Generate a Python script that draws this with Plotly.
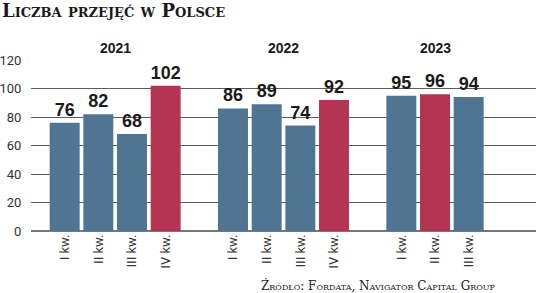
import plotly.graph_objects as go

years = ["2021", "2022", "2023"]
quarters = ["I kw.", "II kw.", "III kw.", "IV kw."]
values_2021 = [76, 82, 68, 102]
values_2022 = [86, 89, 74, 92]
values_2023 = [95, 96, 94]
highlight = {"2021": 3, "2022": 3, "2023": 1}  # quarter index drawn in red
y_ticks = [0, 20, 40, 60, 80, 100, 120]

BLUE = "#4f7593"
RED = "#b43552"

series = [values_2021, values_2022, values_2023]
xs, ys, labels, colors = [], [], [], []
for g, (yr, vals) in enumerate(zip(years, series)):
    for q, v in enumerate(vals):
        xs.append(g * 5 + q)
        ys.append(v)
        labels.append(quarters[q])
        colors.append(RED if highlight[yr] == q else BLUE)

fig = go.Figure()
fig.add_trace(go.Bar(
    x=xs, y=ys, width=0.89,
    marker=dict(color=colors, line=dict(width=0)),
    text=[str(v) for v in ys], textposition="outside",
    textfont=dict(family="Liberation Sans, Arial, sans-serif",
                  size=18, color="#1a1a1a", weight="bold"),
    cliponaxis=False, hoverinfo="skip",
))

for g, yr in enumerate(years):
    n = len(series[g])
    fig.add_annotation(
        x=g * 5 + (n - 1) / 2, xref="x", y=1, yref="paper",
        yanchor="bottom", yshift=2, text=yr, showarrow=False,
        font=dict(family="Liberation Sans, Arial, sans-serif", size=14,
                  color="#1a1a1a", weight="bold"),
    )

fig.add_annotation(
    x=-31 / 505.3, xref="paper", y=1, yref="paper", xanchor="left", yanchor="bottom",
    yshift=37, text="Liczba przejęć w Polsce", showarrow=False,
    font=dict(family="DejaVu Serif, serif", size=18, color="#1a1a1a",
              weight="bold", variant="small-caps"),
)
fig.add_annotation(
    x=(498 - 30.7) / 505.3, xref="paper", y=0, yref="paper", xanchor="right",
    yanchor="top", yshift=-45, text="Źródło: Fordata, Navigator Capital Group",
    showarrow=False,
    font=dict(family="DejaVu Serif, serif", size=12, color="#1a1a1a",
              variant="small-caps"),
)

fig.update_layout(
    width=536, height=293,
    margin=dict(l=31, r=0, t=60, b=62),
    paper_bgcolor="white", plot_bgcolor="white",
    showlegend=False,
    xaxis=dict(
        range=[-1, 14], tickmode="array", tickvals=xs, ticktext=labels,
        tickangle=-90, showgrid=False, zeroline=False, showline=False,
        tickfont=dict(family="Roboto, sans-serif", size=13, color="#333"),
        fixedrange=True,
    ),
    yaxis=dict(
        range=[0, 120], tickmode="array", tickvals=y_ticks,
        showgrid=True, gridcolor="#5c5c5c", gridwidth=1,
        zeroline=True, zerolinecolor="#777", zerolinewidth=2,
        showline=False, ticks="outside", ticklen=6, tickcolor="rgba(0,0,0,0)",
        tickfont=dict(family="Roboto, sans-serif", size=13, color="#333"),
        fixedrange=True,
    ),
)

fig.write_html("out.html")
